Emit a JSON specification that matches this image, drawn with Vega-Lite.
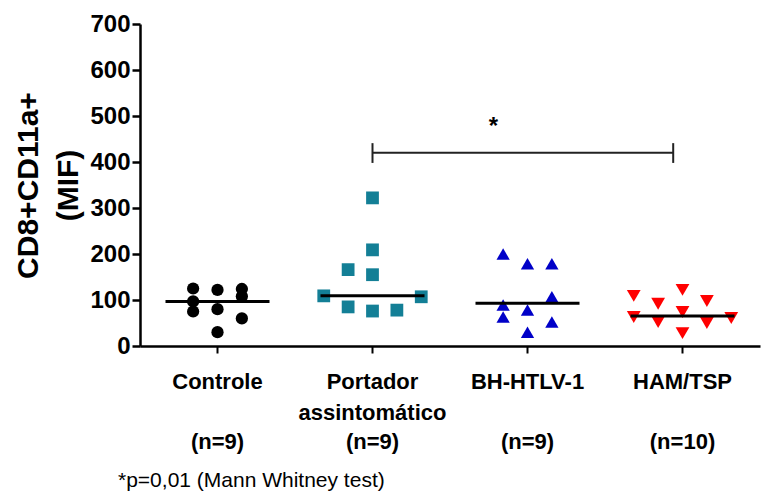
{
  "$schema": "https://vega.github.io/schema/vega-lite/v6.json",
  "width": 620,
  "height": 322,
  "autosize": {"type": "none"},
  "padding": {"left": 140, "top": 24, "right": 1, "bottom": 152},
  "background": "white",
  "config": {"view": {"stroke": null}, "font": "Liberation Sans"},
  "title": {
    "text": "*p=0,01 (Mann Whitney test)",
    "orient": "bottom",
    "anchor": "start",
    "frame": "group",
    "font": "Liberation Sans",
    "fontSize": 21,
    "fontWeight": "normal",
    "color": "black",
    "dx": -22,
    "offset": 18
  },
  "datasets": {
    "points": [
      {"group": "Controle", "col": -1, "value": 125},
      {"group": "Controle", "col": -1, "value": 97},
      {"group": "Controle", "col": -1, "value": 75},
      {"group": "Controle", "col": 0, "value": 122},
      {"group": "Controle", "col": 0, "value": 80},
      {"group": "Controle", "col": 0, "value": 30},
      {"group": "Controle", "col": 1, "value": 124},
      {"group": "Controle", "col": 1, "value": 108},
      {"group": "Controle", "col": 1, "value": 60},
      {"group": "Portador assintomático", "col": 0, "value": 322},
      {"group": "Portador assintomático", "col": 0, "value": 209},
      {"group": "Portador assintomático", "col": -1, "value": 166},
      {"group": "Portador assintomático", "col": 0, "value": 155},
      {"group": "Portador assintomático", "col": -2, "value": 109},
      {"group": "Portador assintomático", "col": 2, "value": 107},
      {"group": "Portador assintomático", "col": -1, "value": 85},
      {"group": "Portador assintomático", "col": 0, "value": 76},
      {"group": "Portador assintomático", "col": 1, "value": 78},
      {"group": "BH-HTLV-1", "col": -1, "value": 200},
      {"group": "BH-HTLV-1", "col": 0, "value": 179},
      {"group": "BH-HTLV-1", "col": 1, "value": 179},
      {"group": "BH-HTLV-1", "col": 1, "value": 107},
      {"group": "BH-HTLV-1", "col": -1, "value": 89},
      {"group": "BH-HTLV-1", "col": 0, "value": 78},
      {"group": "BH-HTLV-1", "col": -1, "value": 63},
      {"group": "BH-HTLV-1", "col": 1, "value": 52},
      {"group": "BH-HTLV-1", "col": 0, "value": 30},
      {"group": "HAM/TSP", "col": -2, "value": 109},
      {"group": "HAM/TSP", "col": -1, "value": 92},
      {"group": "HAM/TSP", "col": 0, "value": 122},
      {"group": "HAM/TSP", "col": 1, "value": 98},
      {"group": "HAM/TSP", "col": -2, "value": 63},
      {"group": "HAM/TSP", "col": -1, "value": 52},
      {"group": "HAM/TSP", "col": 0, "value": 74},
      {"group": "HAM/TSP", "col": 1, "value": 50},
      {"group": "HAM/TSP", "col": 0, "value": 28},
      {"group": "HAM/TSP", "col": 2, "value": 61}
    ],
    "medians": [
      {"group": "Controle", "value": 97},
      {"group": "Portador assintomático", "value": 109},
      {"group": "BH-HTLV-1", "value": 93},
      {"group": "HAM/TSP", "value": 65}
    ],
    "bracket": [
      {"x1": 1.5, "x2": 3.44, "y1": 420, "y2": 420},
      {"x1": 1.5, "x2": 1.5, "y1": 398, "y2": 441},
      {"x1": 3.44, "x2": 3.44, "y1": 398, "y2": 441}
    ],
    "star": [
      {"x": 2.28, "y": 476, "label": "*"}
    ]
  },
  "resolve": {"scale": {"x": "independent"}},
  "layer": [
    {
      "data": {"name": "points"},
      "mark": {"type": "point", "filled": true, "opacity": 1, "strokeWidth": 0},
      "encoding": {
        "x": {
          "field": "group",
          "type": "nominal",
          "sort": ["Controle", "Portador assintomático", "BH-HTLV-1", "HAM/TSP"],
          "scale": {"domain": ["Controle", "Portador assintomático", "BH-HTLV-1", "HAM/TSP"], "paddingInner": 0, "paddingOuter": 0},
          "axis": {
            "title": null,
            "labelAngle": 0,
            "labelExpr": "datum.value == 'Portador assintomático' ? ['Portador', 'assintomático'] : datum.value",
            "labelFont": "Liberation Sans",
            "labelFontSize": 22,
            "labelFontWeight": "bold",
            "labelColor": "black",
            "labelLineHeight": 31,
            "labelPadding": 18,
            "labelOverlap": false,
            "labelBound": false,
            "domainColor": "black",
            "domainWidth": 2.5,
            "tickColor": "black",
            "tickWidth": 2,
            "tickSize": 7,
            "grid": false
          }
        },
        "xOffset": {
          "field": "col",
          "type": "ordinal",
          "scale": {"domain": [-2, -1, 0, 1, 2], "range": [28.75, 126.25], "paddingInner": 0, "paddingOuter": 0}
        },
        "y": {
          "field": "value",
          "type": "quantitative",
          "scale": {"domain": [0, 700], "nice": false, "zero": true},
          "axis": {
            "title": ["CD8+CD11a+", "(MIF)"],
            "titleFont": "Liberation Sans",
            "titleFontSize": 30,
            "titleFontWeight": "bold",
            "titleColor": "black",
            "titleLineHeight": 40,
            "titlePadding": 6,
            "values": [0, 100, 200, 300, 400, 500, 600, 700],
            "labelFont": "Liberation Sans",
            "labelFontSize": 24,
            "labelFontWeight": "bold",
            "labelColor": "black",
            "labelPadding": 2,
            "domainColor": "black",
            "domainWidth": 2.5,
            "tickColor": "black",
            "tickWidth": 2.5,
            "tickSize": 8,
            "grid": false
          }
        },
        "shape": {
          "field": "group",
          "type": "nominal",
          "scale": {"domain": ["Controle", "Portador assintomático", "BH-HTLV-1", "HAM/TSP"], "range": ["circle", "square", "triangle-up", "triangle-down"]},
          "legend": null
        },
        "color": {
          "field": "group",
          "type": "nominal",
          "scale": {"domain": ["Controle", "Portador assintomático", "BH-HTLV-1", "HAM/TSP"], "range": ["#000000", "#137f96", "#0000c8", "#ff0000"]},
          "legend": null
        },
        "size": {
          "field": "group",
          "type": "ordinal",
          "scale": {"domain": ["Controle", "Portador assintomático", "BH-HTLV-1", "HAM/TSP"], "range": [150, 190, 180, 180]},
          "legend": null
        }
      }
    },
    {
      "data": {"name": "medians"},
      "mark": {"type": "tick", "color": "black", "size": 104, "thickness": 3, "opacity": 1},
      "encoding": {
        "x": {
          "field": "group",
          "type": "nominal",
          "sort": ["Controle", "Portador assintomático", "BH-HTLV-1", "HAM/TSP"],
          "scale": {"domain": ["Controle", "Portador assintomático", "BH-HTLV-1", "HAM/TSP"], "paddingInner": 0, "paddingOuter": 0},
          "axis": {
            "title": null,
            "orient": "bottom",
            "labelAngle": 0,
            "domain": false,
            "ticks": false,
            "labelExpr": "datum.value == 'HAM/TSP' ? '(n=10)' : '(n=9)'",
            "labelFont": "Liberation Sans",
            "labelFontSize": 22,
            "labelFontWeight": "bold",
            "labelColor": "black",
            "labelPadding": 85,
            "labelOverlap": false,
            "labelBound": false,
            "grid": false
          }
        },
        "y": {"field": "value", "type": "quantitative"}
      }
    },
    {
      "data": {"name": "bracket"},
      "mark": {"type": "rule", "color": "#222222", "strokeWidth": 2},
      "encoding": {
        "x": {"field": "x1", "type": "quantitative", "scale": {"domain": [0, 4], "nice": false, "zero": false}, "axis": null},
        "x2": {"field": "x2"},
        "y": {"field": "y1", "type": "quantitative"},
        "y2": {"field": "y2"}
      }
    },
    {
      "data": {"name": "star"},
      "mark": {"type": "text", "font": "Liberation Sans", "fontSize": 24, "fontWeight": "bold", "color": "black", "baseline": "middle", "align": "center"},
      "encoding": {
        "x": {"field": "x", "type": "quantitative", "scale": {"domain": [0, 4], "nice": false, "zero": false}, "axis": null},
        "y": {"field": "y", "type": "quantitative"},
        "text": {"field": "label"}
      }
    }
  ]
}
